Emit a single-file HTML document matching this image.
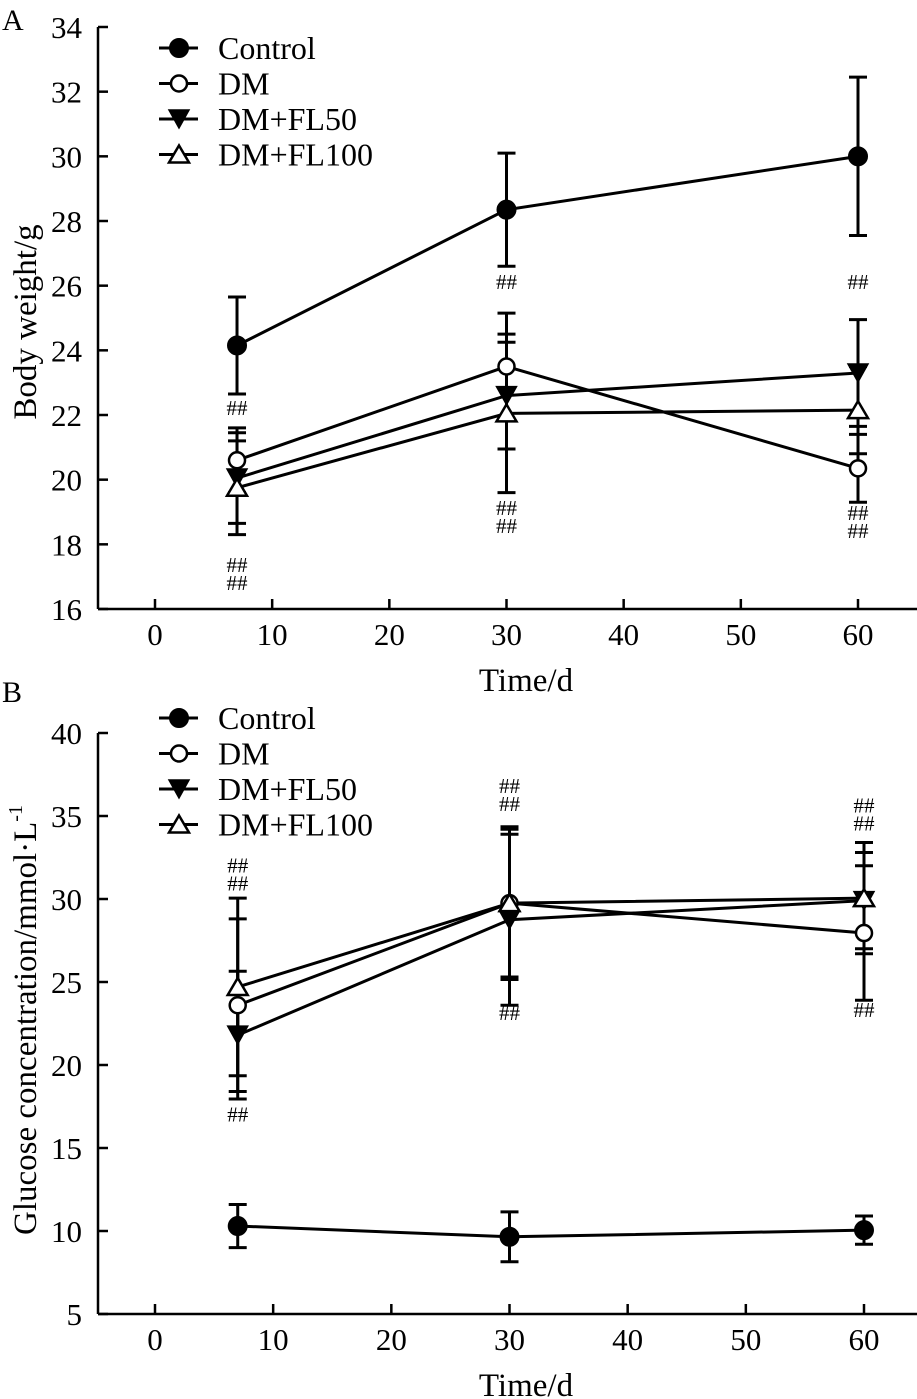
<!DOCTYPE html>
<html><head><meta charset="utf-8"><style>
html,body{margin:0;padding:0;background:#fff;}
svg{display:block;font-family:"Liberation Serif",serif;}
</style></head><body>
<svg id="chart" width="917" height="1399" viewBox="0 0 917 1399" xmlns="http://www.w3.org/2000/svg"></svg>
<script>
// ---- Data ----
const days = [7, 30, 60];
const seriesNames = ["Control", "DM", "DM+FL50", "DM+FL100"];
const markers = ["filled-circle", "open-circle", "filled-down-triangle", "open-up-triangle"];
// Panel A: body weight (g)
const bwControl = [24.15, 28.35, 30.0];
const bwDM = [20.6, 23.5, 20.35];
const bwFL50 = [20.05, 22.6, 23.3];
const bwFL100 = [19.75, 22.05, 22.15];
const bwControlSD = [1.5, 1.75, 2.45];
const bwDMSD = [1.0, 1.65, 1.05];
const bwFL50SD = [1.4, 1.65, 1.65];
const bwFL100SD = [1.45, 2.45, 1.35];
// Panel B: glucose (mmol/L)
const gluControl = [10.3, 9.65, 10.05];
const gluDM = [23.6, 29.75, 27.95];
const gluFL50 = [21.8, 28.75, 29.9];
const gluFL100 = [24.7, 29.75, 30.05];
const gluControlSD = [1.3, 1.5, 0.85];
const gluDMSD = [5.2, 4.6, 4.05];
const gluFL50SD = [3.85, 5.15, 2.9];
const gluFL100SD = [5.35, 4.45, 3.35];
// Ticks
const xTicks = [0, 10, 20, 30, 40, 50, 60];
const yTicksA = [16, 18, 20, 22, 24, 26, 28, 30, 32, 34];
const yTicksB = [5, 10, 15, 20, 25, 30, 35, 40];
// significance marks: [day, value, number of lines]
const sigA = [[7, 22.0, 1], [7, 17.15, 2], [30, 25.9, 1], [30, 18.9, 2], [60, 25.9, 1], [60, 18.75, 2]];
const sigB = [[7, 31.6, 2], [7, 16.6, 1], [30, 36.4, 2], [30, 22.7, 1], [60, 35.2, 2], [60, 22.9, 1]];

const NS = "http://www.w3.org/2000/svg";
const svg = document.getElementById("chart");
function mk(tag, attrs, parent) {
  const e = document.createElementNS(NS, tag);
  for (const k in attrs) e.setAttribute(k, attrs[k]);
  (parent || svg).appendChild(e);
  return e;
}

function panel(cfg) {
  const g = mk("g", {});
  
  
  const xs = d => cfg.x0 + (cfg.x60 - cfg.x0) * d / 60;
  const ys = v => cfg.yBot - (v - cfg.ymin) / (cfg.ymax - cfg.ymin) * (cfg.yBot - cfg.yTop);
  const ax = mk("g", {stroke: "#000", "stroke-width": 2.5, fill: "none"}, g);
  
  
  mk("line", {x1: cfg.axL, y1: cfg.yTop, x2: cfg.axL, y2: cfg.yBot}, ax);
  mk("line", {x1: cfg.axL, y1: cfg.yBot, x2: 917, y2: cfg.yBot}, ax);
  cfg.yt.forEach(v => {
    mk("line", {x1: cfg.axL, y1: ys(v), x2: cfg.axL + 10, y2: ys(v)}, ax);
    const t = mk("text", {x: 82, y: ys(v) + 11, "font-size": 31, "text-anchor": "end"}, g);
    
    
    t.textContent = v;
  });
  xTicks.forEach(d => {
    mk("line", {x1: xs(d), y1: cfg.yBot, x2: xs(d), y2: cfg.yBot - 10}, ax);
    const t = mk("text", {x: xs(d), y: cfg.yBot + 36, "font-size": 31, "text-anchor": "middle"}, g);
    
    
    t.textContent = d;
  });
  const xt = mk("text", {x: 526, y: cfg.yBot + 82, "font-size": 33, "text-anchor": "middle"}, g);
  
  
  xt.textContent = "Time/d";
  const ytl = mk("text", {x: 0, y: 0, "font-size": 33, "text-anchor": "middle", transform: `translate(36,${cfg.ytitleY}) rotate(-90)`}, g);
  
  
  ytl.innerHTML = cfg.ytitle;
  const pl = mk("text", {x: 2, y: cfg.letterY, "font-size": 30}, g);
  
  
  pl.textContent = cfg.letter;

  cfg.series.forEach((s, i) => {
    days.forEach((d, j) => {
      const x = xs(d), hi = ys(s[j] + cfg.sd[i][j]), lo = ys(s[j] - cfg.sd[i][j]);
      const eb = mk("g", {stroke: "#000", "stroke-width": 3}, g);
      
      
      mk("line", {x1: x, y1: hi, x2: x, y2: lo}, eb);
      mk("line", {x1: x - 9, y1: hi, x2: x + 9, y2: hi}, eb);
      mk("line", {x1: x - 9, y1: lo, x2: x + 9, y2: lo}, eb);
    });
  });
  cfg.series.forEach((s, i) => {
    const p = mk("polyline", {points: days.map((d, j) => xs(d) + "," + ys(s[j])).join(" "), fill: "none", stroke: "#000", "stroke-width": 3}, g);
    
    
  });
  cfg.series.forEach((s, i) => {
    days.forEach((d, j) => {
      const m = marker(g, markers[i], xs(d), ys(s[j]));
      
      
    });
  });
  cfg.sig.forEach(sg => {
    for (let k = 0; k < sg[2]; k++) {
      const t = mk("text", {x: xs(sg[0]), y: ys(sg[1]) + k * 18, "font-size": 21, "text-anchor": "middle"}, g);
      
      
      t.textContent = "##";
    }
  });
  seriesNames.forEach((n, i) => {
    const y = cfg.legY + i * 35.5;
    const lg = mk("g", {}, g);
    
    
    mk("line", {x1: 159, y1: y, x2: 198, y2: y, stroke: "#000", "stroke-width": 3}, lg);
    marker(lg, markers[i], 179, y);
    const t = mk("text", {x: 218, y: y + 11, "font-size": 32}, lg);
    t.textContent = n;
  });
}

function marker(parent, type, x, y) {
  if (type === "filled-circle") return mk("circle", {cx: x, cy: y, r: 9, fill: "#000", stroke: "#000", "stroke-width": 2}, parent);
  if (type === "open-circle") return mk("circle", {cx: x, cy: y, r: 8, fill: "#fff", stroke: "#000", "stroke-width": 2.5}, parent);
  if (type === "filled-down-triangle") return mk("polygon", {points: `${x-10},${y-9} ${x+10},${y-9} ${x},${y+9}`, fill: "#000", stroke: "#000", "stroke-width": 1.5}, parent);
  return mk("polygon", {points: `${x-10},${y+8} ${x+10},${y+8} ${x},${y-9}`, fill: "#fff", stroke: "#000", "stroke-width": 2.5}, parent);
}

panel({name: "panel-a-body-weight", letter: "A", letterY: 30, x0: 155, x60: 858, axL: 98, yTop: 27, yBot: 609, ymin: 16, ymax: 34,
  yt: yTicksA, ytitle: "Body weight/g", ytitleY: 322, legY: 48,
  series: [bwControl, bwDM, bwFL50, bwFL100], sd: [bwControlSD, bwDMSD, bwFL50SD, bwFL100SD], sig: sigA});
panel({name: "panel-b-glucose", letter: "B", letterY: 702, x0: 155, x60: 864, axL: 98, yTop: 733, yBot: 1314, ymin: 5, ymax: 40,
  yt: yTicksB, ytitle: 'Glucose concentration/mmol·L<tspan dy="-14" font-size="20">-1</tspan>', ytitleY: 1020, legY: 718,
  series: [gluControl, gluDM, gluFL50, gluFL100], sd: [gluControlSD, gluDMSD, gluFL50SD, gluFL100SD], sig: sigB});
</script>
</body></html>
